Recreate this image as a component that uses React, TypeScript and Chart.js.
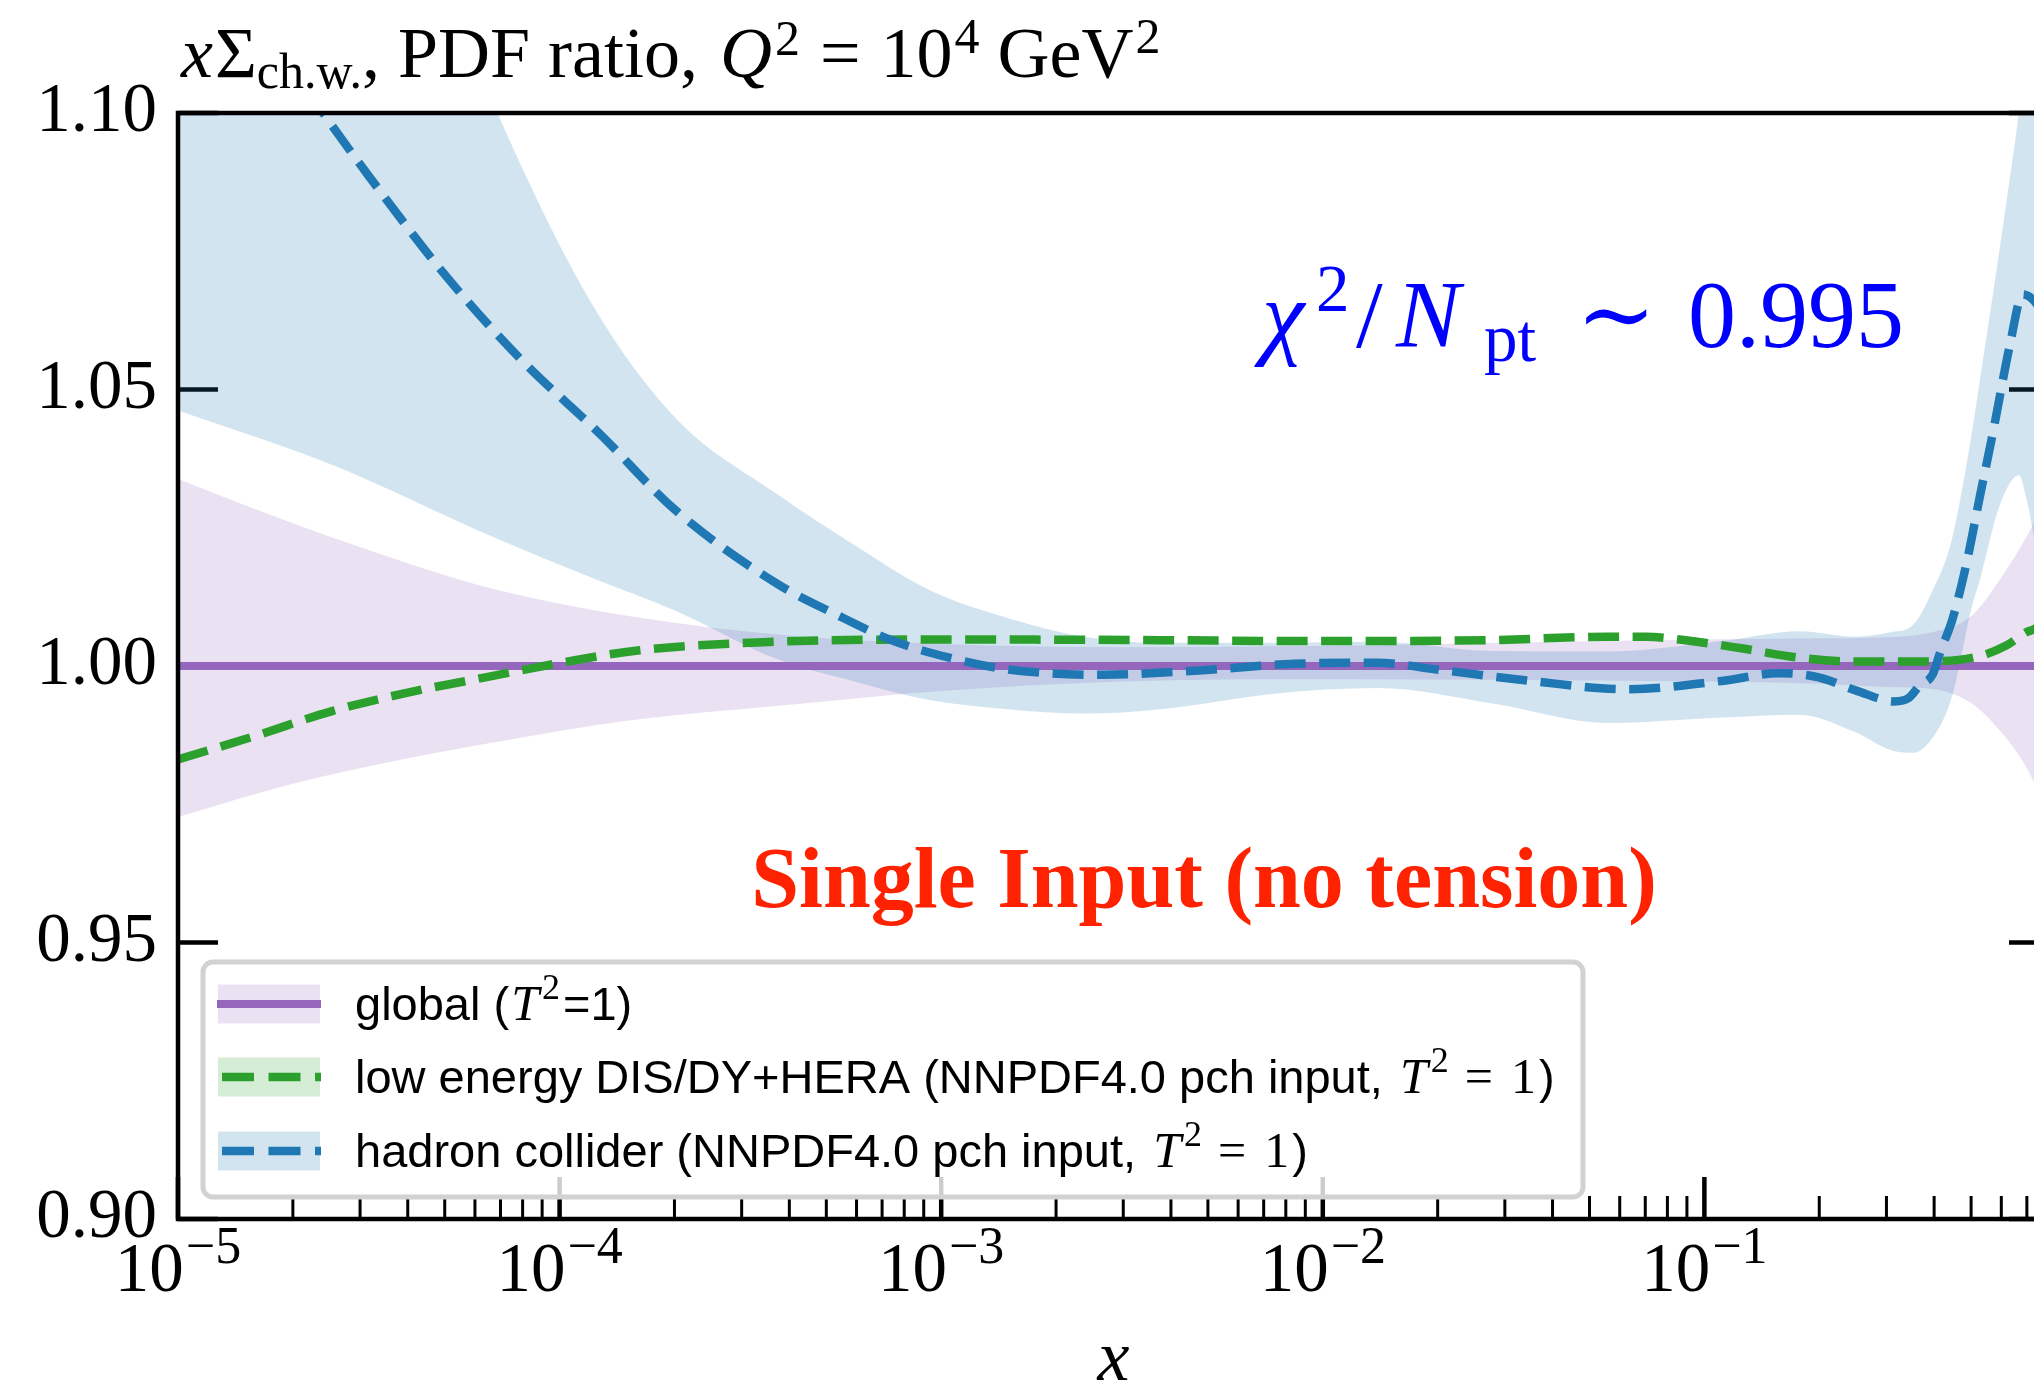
import React, { useEffect, useRef } from "react";
import { Chart, registerables } from "chart.js";

Chart.register(...registerables);

// ---------------- data ----------------
const X_MIN = 1e-5;
const X_MAX = 0.8;
const Y_MIN = 0.9;
const Y_MAX = 1.1;
const Y_STEP = 0.05;
const Y_TICK_VALUES = [0.9, 0.95, 1.0, 1.05, 1.1];
const X_MAJOR_TICKS = [1e-5, 1e-4, 1e-3, 1e-2, 1e-1];
const X_TICK_EXPONENTS = ["\u22125", "\u22124", "\u22123", "\u22122", "\u22121"];

// global (T^2 = 1): central line and band
const GLOBAL_LINE_X = [1e-5, 0.8];
const GLOBAL_LINE_Y = [1.0, 1.0];
const GLOBAL_BAND_X = [1e-5, 2e-5, 4e-5, 7e-5, 1.5e-4, 4e-4, 1e-3, 3e-3, 1e-2, 3e-2, 0.1, 0.2, 0.3, 0.4, 0.5, 0.6, 0.7, 0.8];
const GLOBAL_BAND_UP = [1.0338, 1.0258, 1.0186, 1.0136, 1.0091, 1.0055, 1.004, 1.0034, 1.0036, 1.0042, 1.0048, 1.005, 1.0052, 1.0062, 1.009, 1.016, 1.0235, 1.031];
const GLOBAL_BAND_LO = [0.9727, 0.9787, 0.9833, 0.9864, 0.9901, 0.993, 0.9955, 0.9972, 0.9976, 0.9975, 0.9972, 0.9968, 0.9962, 0.9958, 0.9933, 0.988, 0.9815, 0.973];

// low energy DIS/DY+HERA: central line
const LOWE_X = [1e-5, 1.585e-5, 2.52e-5, 4.0e-5, 6.34e-5, 1.01e-4, 1.6e-4, 3.42e-4, 1e-3, 3.16e-3, 1e-2, 2.79e-2, 5.56e-2, 7.02e-2, 8.83e-2, 0.125, 0.177, 0.249, 0.352, 0.52, 0.618, 0.698, 0.728, 0.8];
const LOWE_Y = [0.9831, 0.9873, 0.9918, 0.9952, 0.9979, 1.0006, 1.0028, 1.0043, 1.0048, 1.0047, 1.0045, 1.0047, 1.0053, 1.0053, 1.0047, 1.0032, 1.0015, 1.0008, 1.0008, 1.0017, 1.0037, 1.0061, 1.0066, 1.0085];

// hadron collider: central line
const HC_X = [1e-5, 1.585e-5, 2.4e-5, 3.17e-5, 5.04e-5, 7.98e-5, 1.27e-4, 2.01e-4, 3.73e-4, 5.27e-4, 7.45e-4, 1.05e-3, 1.49e-3, 2.65e-3, 4.73e-3, 8.41e-3, 1.39e-2, 1.97e-2, 3.51e-2, 6.25e-2, 0.111, 0.157, 0.198, 0.249, 0.315, 0.343, 0.367, 0.396, 0.415, 0.447, 0.486, 0.528, 0.573, 0.632, 0.683, 0.728, 0.8];
const HC_Y = [1.137, 1.118, 1.1, 1.0885, 1.0705, 1.0552, 1.0421, 1.0282, 1.0148, 1.0094, 1.0046, 1.0015, 0.9994, 0.9984, 0.9992, 1.0004, 1.0006, 0.9994, 0.9973, 0.9958, 0.9973, 0.9987, 0.998, 0.9956, 0.9936, 0.9942, 0.9965, 0.9984, 1.0025, 1.0085, 1.0185, 1.0309, 1.0429, 1.0581, 1.0672, 1.0662, 1.062];

// hadron collider: band
const HC_BAND_X = [1e-5, 2.51e-5, 6.87e-5, 1.21e-4, 2.01e-4, 3.73e-4, 5.92e-4, 9.4e-4, 1.49e-3, 2.37e-3, 3.76e-3, 7.5e-3, 1.39e-2, 2.79e-2, 5.56e-2, 0.111, 0.177, 0.249, 0.307, 0.352, 0.396, 0.441, 0.468, 0.499, 0.528, 0.587, 0.631, 0.667, 0.7, 0.728, 0.8];
const HC_BAND_UP = [1.26, 1.175, 1.1, 1.0657, 1.0449, 1.031, 1.0219, 1.0136, 1.0087, 1.0053, 1.0042, 1.0042, 1.0044, 1.0027, 1.0026, 1.0045, 1.0063, 1.0053, 1.0061, 1.0074, 1.0136, 1.0218, 1.03, 1.041, 1.052, 1.073, 1.088, 1.1, 1.112, 1.121, 1.145];
const HC_BAND_LO = [1.0462, 1.0365, 1.023, 1.016, 1.01, 1.0012, 0.9972, 0.9938, 0.9922, 0.9914, 0.9922, 0.995, 0.996, 0.9932, 0.9897, 0.9907, 0.9912, 0.988, 0.9848, 0.9843, 0.987, 0.9935, 1.0007, 1.01, 1.0158, 1.028, 1.033, 1.0345, 1.03, 1.024, 1.01];

// text
const LEGEND_LABELS = [
  "global (",
  "low energy DIS/DY+HERA (NNPDF4.0 pch input, ",
  "hadron collider (NNPDF4.0 pch input, ",
];
const ANNOTATION_RED = "Single Input (no tension)";
const CHI2_VALUE = "0.995";

// ---------------- styles ----------------
const C_PURPLE = "#9467bd";
const C_GREEN = "#2ca02c";
const C_BLUE = "#1f77b4";
const B_PURPLE = "rgba(148,103,189,0.2)";
const B_GREEN = "rgba(44,160,44,0.2)";
const B_BLUE = "rgba(31,119,180,0.2)";
const SERIF = '"Liberation Serif", "DejaVu Serif", serif';
const SANS = '"Liberation Sans", Arial, sans-serif';
const CANVAS_W = 2060;
const CANVAS_H = 1385;
const DASH = [31, 13.5];

type Seg = { t: string; f: string; dy?: number; x?: number; gap?: number };

function drawSegs(ctx: CanvasRenderingContext2D, segs: Seg[], x0: number, y: number, align: string, color: string) {
  ctx.save();
  ctx.fillStyle = color;
  ctx.textBaseline = "alphabetic";
  ctx.textAlign = "left";
  let total = 0;
  for (const s of segs) {
    ctx.font = s.f;
    total += ctx.measureText(s.t).width + (s.gap || 0);
  }
  let x = align === "center" ? x0 - total / 2 : align === "right" ? x0 - total : x0;
  for (const s of segs) {
    ctx.font = s.f;
    x += s.gap || 0;
    if (s.x !== undefined) x = s.x;
    ctx.fillText(s.t, x, y + (s.dy || 0));
    x += ctx.measureText(s.t).width;
  }
  ctx.restore();
}

const pts = (xs: number[], ys: number[]) => xs.map((x, i) => ({ x, y: ys[i] }));

const decor = {
  id: "decor",
  beforeDatasetsDraw(chart: any) {
    const { ctx, chartArea: a, scales } = chart;
    const xs = scales.x;
    const ys = scales.y;
    ctx.save();
    ctx.strokeStyle = "#000";
    ctx.lineCap = "butt";
    ctx.lineWidth = 4.5;
    ctx.beginPath();
    for (const v of Y_TICK_VALUES) {
      const py = ys.getPixelForValue(v);
      ctx.moveTo(a.left, py);
      ctx.lineTo(a.left + 40, py);
      ctx.moveTo(a.right, py);
      ctx.lineTo(a.right - 40, py);
    }
    for (const v of X_MAJOR_TICKS) {
      const px = xs.getPixelForValue(v);
      ctx.moveTo(px, a.bottom);
      ctx.lineTo(px, a.bottom - 42);
    }
    ctx.stroke();
    ctx.lineWidth = 3;
    ctx.beginPath();
    for (const d of X_MAJOR_TICKS) {
      for (let m = 2; m <= 9; m++) {
        const v = m * d;
        if (v > X_MAX) break;
        const px = xs.getPixelForValue(v);
        ctx.moveTo(px, a.bottom);
        ctx.lineTo(px, a.bottom - 23);
      }
    }
    ctx.stroke();
    ctx.restore();
  },
  afterDatasetsDraw(chart: any) {
    const { ctx, chartArea: a } = chart;
    ctx.save();
    ctx.strokeStyle = "#000";
    ctx.lineWidth = 4.5;
    ctx.strokeRect(a.left, a.top, a.right - a.left, a.bottom - a.top);
    ctx.restore();
  },
  afterDraw(chart: any) {
    const { ctx, chartArea: a, scales } = chart;
    const xs = scales.x;

    // title
    const T = 72, TS = 50;
    drawSegs(ctx, [
      { t: "x", f: `italic ${T}px ${SERIF}` },
      { t: "\u03A3", f: `${T}px ${SERIF}`, gap: 2 },
      { t: "ch.w.", f: `${TS}px ${SERIF}`, dy: 11 },
      { t: ", PDF ratio, ", f: `${T}px ${SERIF}` },
      { t: "Q", f: `italic ${T}px ${SERIF}`, gap: 4 },
      { t: "2", f: `${TS}px ${SERIF}`, dy: -22, gap: 3 },
      { t: "=", f: `${T}px ${SERIF}`, gap: 20 },
      { t: "10", f: `${T}px ${SERIF}`, gap: 20 },
      { t: "4", f: `${TS}px ${SERIF}`, dy: -24, gap: 2 },
      { t: "GeV", f: `${T}px ${SERIF}`, gap: 18 },
      { t: "2", f: `${TS}px ${SERIF}`, dy: -24, gap: 2 },
    ], 181, 77, "left", "#000");

    // x tick labels
    X_MAJOR_TICKS.forEach((v, i) => {
      const px = xs.getPixelForValue(v);
      drawSegs(ctx, [
        { t: "10", f: `69px ${SERIF}` },
        { t: X_TICK_EXPONENTS[i], f: `52px ${SERIF}`, dy: -28, gap: 2 },
      ], px, 1291, "center", "#000");
    });
    // x axis title
    drawSegs(ctx, [{ t: "x", f: `italic 72px ${SERIF}` }], (a.left + a.right) / 2, 1380, "center", "#000");

    // chi2 annotation
    const CF = 96, CS = 67;
    drawSegs(ctx, [
      { t: "\u03C7", f: `italic ${CF}px ${SERIF}`, x: 1262 },
      { t: "2", f: `${CS}px ${SERIF}`, dy: -36, x: 1316 },
      { t: "/", f: `${CF}px ${SERIF}`, x: 1356 },
      { t: "N", f: `italic ${CF}px ${SERIF}`, x: 1396 },
      { t: "pt", f: `${CS}px ${SERIF}`, dy: 14, x: 1484 },
      { t: "\u223C", f: `${CF}px ${SERIF}`, x: 1576 },
      { t: CHI2_VALUE, f: `${CF}px ${SERIF}`, x: 1688 },
    ], 1262, 347, "left", "#0000ff");

    // red annotation
    drawSegs(ctx, [{ t: ANNOTATION_RED, f: `bold 86px ${SERIF}` }], 1204, 907, "center", "#ff2200");

    // legend
    const L = { x: 203, y: 962, w: 1380, h: 235, r: 10 };
    ctx.save();
    ctx.beginPath();
    ctx.moveTo(L.x + L.r, L.y);
    ctx.lineTo(L.x + L.w - L.r, L.y);
    ctx.arcTo(L.x + L.w, L.y, L.x + L.w, L.y + L.r, L.r);
    ctx.lineTo(L.x + L.w, L.y + L.h - L.r);
    ctx.arcTo(L.x + L.w, L.y + L.h, L.x + L.w - L.r, L.y + L.h, L.r);
    ctx.lineTo(L.x + L.r, L.y + L.h);
    ctx.arcTo(L.x, L.y + L.h, L.x, L.y + L.h - L.r, L.r);
    ctx.lineTo(L.x, L.y + L.r);
    ctx.arcTo(L.x, L.y, L.x + L.r, L.y, L.r);
    ctx.closePath();
    ctx.fillStyle = "rgba(255,255,255,0.8)";
    ctx.fill();
    ctx.strokeStyle = "#d2d2d2";
    ctx.lineWidth = 5;
    ctx.stroke();

    const rows = [1004, 1077, 1151];
    const bands = [B_PURPLE, B_GREEN, B_BLUE];
    const lines = [C_PURPLE, C_GREEN, C_BLUE];
    rows.forEach((cy, i) => {
      ctx.fillStyle = bands[i];
      ctx.fillRect(218, cy - 19.5, 102, 39);
      ctx.strokeStyle = lines[i];
      ctx.lineWidth = i === 0 ? 8 : 8.5;
      ctx.setLineDash(i === 0 ? [] : [32, 14.5]);
      ctx.beginPath();
      ctx.moveTo(i === 0 ? 217 : 222, cy);
      ctx.lineTo(321, cy);
      ctx.stroke();
      ctx.setLineDash([]);
      const LF = 47;
      const segs: Seg[] = [
        { t: LEGEND_LABELS[i], f: `${LF}px ${SANS}` },
        { t: "T", f: `italic 50px ${SERIF}`, gap: i === 0 ? 2 : 4 },
        { t: "2", f: `36px ${SERIF}`, dy: -21, gap: 3 },
      ];
      if (i === 0) {
        segs.push({ t: "=1)", f: `${LF}px ${SANS}`, gap: 3 });
      } else {
        segs.push({ t: "=", f: `50px ${SERIF}`, gap: 16 });
        segs.push({ t: "1", f: `50px ${SERIF}`, gap: 18 });
        segs.push({ t: ")", f: `${LF}px ${SANS}`, gap: 3 });
      }
      drawSegs(ctx, segs, 355, cy + 16, "left", "#000");
    });
    ctx.restore();
  },
};

export default function App() {
  const ref = useRef<HTMLCanvasElement | null>(null);
  useEffect(() => {
    if (!ref.current) return;
    const lineBase = { pointRadius: 0, cubicInterpolationMode: "monotone" as const, clip: 0 };
    const chart = new Chart(ref.current, {
      type: "line",
      data: {
        datasets: [
          { ...lineBase, label: "hc up", data: pts(HC_BAND_X, HC_BAND_UP), borderColor: "transparent", borderWidth: 0, backgroundColor: B_BLUE, fill: "+1", order: 8 },
          { ...lineBase, label: "hc lo", data: pts(HC_BAND_X, HC_BAND_LO), borderColor: "transparent", borderWidth: 0, fill: false, order: 8 },
          { ...lineBase, label: "gl up", data: pts(GLOBAL_BAND_X, GLOBAL_BAND_UP), borderColor: "transparent", borderWidth: 0, backgroundColor: B_PURPLE, fill: "+1", order: 9 },
          { ...lineBase, label: "gl lo", data: pts(GLOBAL_BAND_X, GLOBAL_BAND_LO), borderColor: "transparent", borderWidth: 0, fill: false, order: 9 },
          { ...lineBase, label: "global", data: pts(GLOBAL_LINE_X, GLOBAL_LINE_Y), borderColor: C_PURPLE, borderWidth: 8, fill: false, order: 3 },
          { ...lineBase, label: "low energy", data: pts(LOWE_X, LOWE_Y), borderColor: C_GREEN, borderWidth: 8.5, borderDash: DASH, borderCapStyle: "butt", fill: false, order: 2 },
          { ...lineBase, label: "hadron collider", data: pts(HC_X, HC_Y), borderColor: C_BLUE, borderWidth: 8.5, borderDash: DASH, borderCapStyle: "butt", fill: false, order: 1 },
        ],
      },
      options: {
        animation: false,
        responsive: false,
        devicePixelRatio: 1,
        events: [],
        layout: { padding: { left: 0, top: 113, right: CANVAS_W - 2049, bottom: CANVAS_H - 1219 } },
        plugins: { legend: { display: false }, tooltip: { enabled: false }, title: { display: false } },
        scales: {
          x: { type: "logarithmic", min: X_MIN, max: X_MAX, bounds: "data", display: false },
          y: {
            type: "linear",
            min: Y_MIN,
            max: Y_MAX,
            grid: { display: false, drawTicks: false },
            border: { display: false },
            ticks: {
              stepSize: Y_STEP,
              padding: 21,
              color: "#000",
              font: { family: "Liberation Serif", size: 69 },
              callback: (v: any) => Number(v).toFixed(2),
            },
            afterFit: (s: any) => { s.width = 178; },
          },
        },
      },
      plugins: [decor],
    } as any);
    return () => chart.destroy();
  }, []);
  return (
    <div style={{ position: "fixed", left: 0, top: 0, width: 2034, height: 1385, overflow: "hidden", background: "#fff" }}>
      <canvas ref={ref} width={CANVAS_W} height={CANVAS_H} style={{ width: CANVAS_W, height: CANVAS_H, display: "block" }} />
    </div>
  );
}
